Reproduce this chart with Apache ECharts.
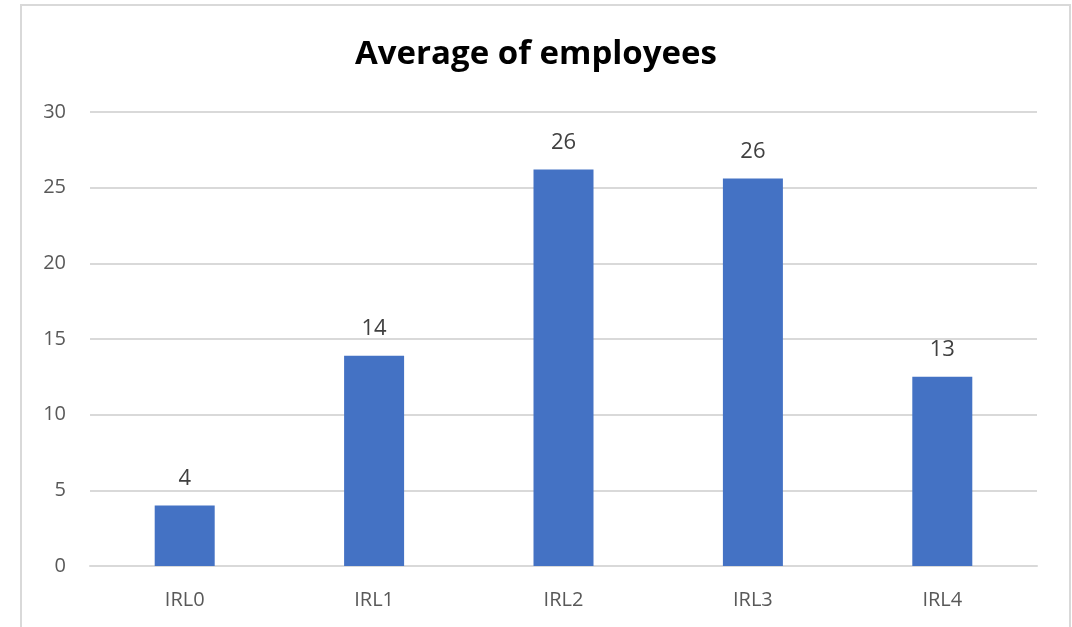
<!DOCTYPE html>
<html>
<head>
<meta charset="utf-8">
<script src="https://cdn.jsdelivr.net/npm/echarts@6/dist/echarts.min.js"></script>
<style>html,body{margin:0;padding:0;background:#fff;}#c{width:1072px;height:627px;}</style>
</head>
<body>
<div id="c"></div>
<script>
const categories = ['IRL0', 'IRL1', 'IRL2', 'IRL3', 'IRL4'];
const values = [4.0, 13.9, 26.2, 25.6, 12.5];
const titleText = 'Average of employees';

const chart = echarts.init(document.getElementById('c'), null, {renderer: 'canvas'});
const font = '"Open Sans", "Noto Sans", sans-serif';
chart.setOption({
  animation: false,
  backgroundColor: '#fff',
  graphic: [{
    type: 'rect', left: 20, top: 4, z: -1,
    shape: {width: 1049, height: 660},
    style: {fill: '#fff', stroke: '#d9d9d9', lineWidth: 2}
  }],
  title: {
    text: titleText, left: 'center', top: 33,
    textStyle: {fontFamily: font, fontSize: 33, fontWeight: 'bold', color: '#000'}
  },
  grid: {left: 90, right: 35, top: 112, bottom: 61, containLabel: false},
  xAxis: {
    type: 'category', data: categories,
    axisLine: {lineStyle: {color: '#d9d9d9', width: 2}},
    axisTick: {show: false},
    axisLabel: {color: '#595959', fontFamily: font, fontSize: 20, margin: 24}
  },
  yAxis: {
    type: 'value', min: 0, max: 30, interval: 5,
    axisLine: {show: false}, axisTick: {show: false},
    splitLine: {lineStyle: {color: '#d9d9d9', width: 2}},
    axisLabel: {color: '#595959', fontFamily: font, fontSize: 20, margin: 24}
  },
  series: [{
    type: 'bar', data: values, barWidth: 60,
    itemStyle: {color: '#4472c4'},
    label: {show: true, position: 'top', distance: 16, color: '#404040',
      fontFamily: font, fontSize: 22,
      formatter: p => Math.round(p.value)}
  }]
});
</script>
</body>
</html>
